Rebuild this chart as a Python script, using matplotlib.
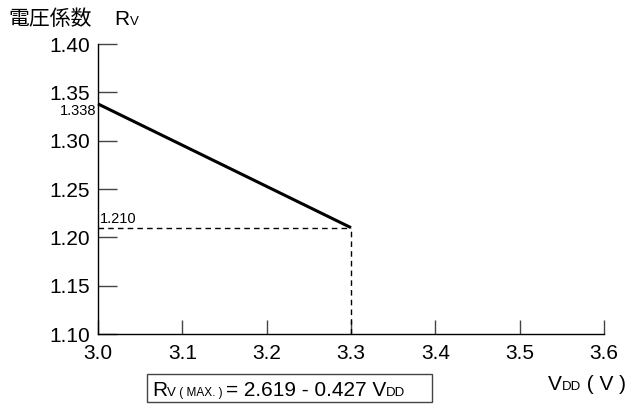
import matplotlib
matplotlib.use("Agg")
import matplotlib.pyplot as plt

plt.rcParams['font.family'] = ['Liberation Sans', 'Noto Sans CJK JP', 'DejaVu Sans']

# data
vdd_line = [3.0, 3.3]
rv_line = [1.338, 1.210]
x_ticks = [3.0, 3.1, 3.2, 3.3, 3.4, 3.5, 3.6]
x_ticklabels = ["3.0", "3.1", "3.2", "3.3", "3.4", "3.5", "3.6"]
y_ticks = [1.10, 1.15, 1.20, 1.25, 1.30, 1.35, 1.40]
y_ticklabels = ["1.10", "1.15", "1.20", "1.25", "1.30", "1.35", "1.40"]
ann_top = "1.338"
ann_end = "1.210"

W, H = 628, 408
fig = plt.figure(figsize=(W/100, H/100), dpi=100)
ax = fig.add_axes([98/W, 1-334/H, (604-98)/W, (334-44)/H])
ax.set_xlim(3.0, 3.6)
ax.set_ylim(1.10, 1.40)
ax.spines['top'].set_visible(False)
ax.spines['right'].set_visible(False)
for s in ax.spines.values():
    s.set_linewidth(1.0)
    s.set_color('black')

ax.plot(vdd_line, rv_line, color='black', lw=2.2, solid_capstyle='butt', clip_on=False)
ax.plot([3.0, vdd_line[1]], [rv_line[1], rv_line[1]], color='black', lw=1.0, ls=(0, (4, 3)))
ax.plot([vdd_line[1], vdd_line[1]], [1.10, rv_line[1]], color='black', lw=1.0, ls=(0, (4, 3)))

ax.set_xticks(x_ticks)
ax.set_xticklabels(x_ticklabels)
ax.set_yticks(y_ticks)
ax.set_yticklabels(y_ticklabels)
ax.tick_params(axis='y', direction='in', length=13.5, width=1.0, pad=6, labelsize=15, color='#444444')
ax.tick_params(axis='x', direction='in', length=10, width=1.0, pad=7.5, labelsize=15, color='#444444')

ax.text(3.0 - 0.002, rv_line[0] - 0.007, ann_top, ha='right', va='center', fontsize=10.5)
ax.text(3.0 + 0.002, rv_line[1] + 0.002, ann_end, ha='left', va='bottom', fontsize=10.5)

fig.canvas.draw()
renderer = fig.canvas.get_renderer()

def runs(x, y, parts, va='baseline'):
    """Place text runs consecutively starting at pixel x (left), baseline y (from top)."""
    cx = x
    for txt, size, dy in parts:
        t = fig.text(cx / W, 1 - (y - dy) / H, txt, fontsize=size, ha='left', va=va)
        bb = t.get_window_extent(renderer)
        cx += bb.width
    return cx

# title
runs(8, 25, [("電圧係数", 15, 0), ("    R", 15, 0), ("V", 9.5, 0)])
# x axis label
runs(548, 390, [("V", 15, 0), ("DD", 9.5, 0), (" ( V )", 15, 0)])
# formula box
runs(152, 396, [("R", 15, 0), ("V", 9.5, 0), (" ( MAX. ) ", 8.5, 0), ("= 2.619 - 0.427 V", 15, 0), ("DD", 9.5, 0)])
from matplotlib.patches import Rectangle
fig.patches.append(Rectangle((147/W, 1-402/H), (432-147)/W, (402-374)/H, transform=fig.transFigure,
                             fill=False, edgecolor='#444444', lw=1.0))

fig.savefig("out.png", dpi=100)
